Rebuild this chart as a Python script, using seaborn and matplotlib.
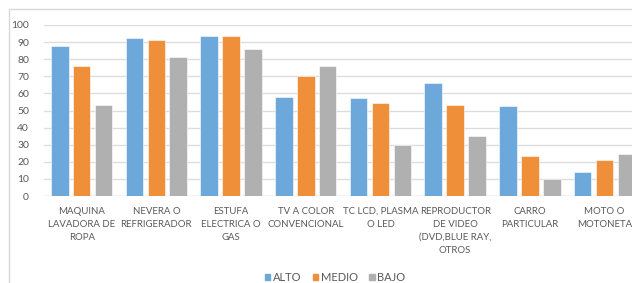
import pandas as pd
import matplotlib.pyplot as plt
import seaborn as sns
from matplotlib.patches import Patch, Rectangle

# categories and values
categories = ["MAQUINA\nLAVADORA DE\nROPA", "NEVERA O\nREFRIGERADOR", "ESTUFA\nELECTRICA O\nGAS",
              "TV A COLOR\nCONVENCIONAL", "TC LCD, PLASMA\nO LED",
              "REPRODUCTOR\nDE VIDEO\n(DVD,BLUE RAY,\nOTROS", "CARRO\nPARTICULAR", "MOTO O\nMOTONETA"]
alto = [87.5, 92.2, 93.6, 58.0, 57.1, 65.9, 52.5, 14.0]
medio = [75.8, 91.0, 93.6, 70.2, 54.2, 53.0, 23.4, 21.0]
bajo = [53.4, 81.3, 85.8, 76.2, 29.8, 34.9, 9.9, 24.6]
series = ["ALTO", "MEDIO", "BAJO"]
colors = ["#6CA9DA", "#EF8F3A", "#B0B0B0"]

df = pd.DataFrame({"cat": categories * 3,
                   "nivel": ["ALTO"] * 8 + ["MEDIO"] * 8 + ["BAJO"] * 8,
                   "valor": alto + medio + bajo})

sns.set_style("white")
plt.rcParams['font.family'] = ['Lato', 'DejaVu Sans']

fig = plt.figure(figsize=(6.32, 2.83), dpi=100)
# chart is cropped on the right in the original, so the axes run past the figure edge
ax = fig.add_axes([44.3 / 632, 1 - 196 / 283, 597.6 / 632, 171 / 283])

sns.barplot(data=df, x="cat", y="valor", hue="nivel", hue_order=series,
            palette=colors, width=0.88, gap=0.2, saturation=1,
            edgecolor="white", linewidth=0.4, legend=False, ax=ax, zorder=3)

ax.set_xlim(-0.5, 7.5)
ax.set_ylim(0, 100)
ax.set_yticks(range(0, 101, 10))
ax.yaxis.grid(True, color="#DDDDDD", linewidth=1, zorder=0)
ax.set_axisbelow(True)
for s in ax.spines.values():
    s.set_visible(False)
ax.axhline(0, color="#D9D9D9", linewidth=1, zorder=1)
ax.tick_params(axis="x", length=0, labelsize=6.9, labelcolor="#595959", pad=8)
ax.tick_params(axis="y", length=0, labelsize=7.5, labelcolor="#595959", pad=11)
for t in ax.get_xticklabels():
    t.set_linespacing(1.55)
ax.set_xlabel("")
ax.set_ylabel("")

# outer chart frame
fig.patches.append(Rectangle((8.5 / 632, -0.1), 1.2, 1 - 9 / 283 + 0.1, transform=fig.transFigure,
                             fill=False, edgecolor="#D9D9D9", linewidth=1, zorder=0))

handles = [Patch(color=c, label=s) for c, s in zip(colors, series)]
fig.legend(handles=handles, loc="center", bbox_to_anchor=(335 / 632, 1 - 277.5 / 283), ncol=3,
           frameon=False, prop={"size": 8}, handlelength=0.5, handleheight=0.5, handletextpad=0.25,
           columnspacing=1.0, labelcolor="#595959")

plt.savefig("out.png", dpi=100)
